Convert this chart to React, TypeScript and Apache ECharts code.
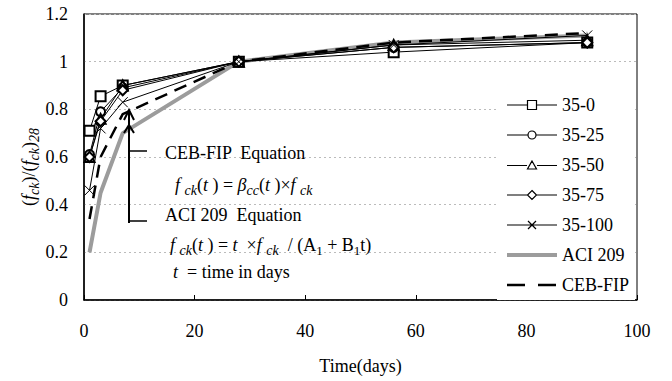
import React, { useEffect, useRef } from "react";
import * as echarts from "echarts";

const days = [1, 3, 7, 28, 56, 91];
const s35_0 = [0.71, 0.855, 0.9, 1.0, 1.04, 1.08];
const s35_25 = [0.61, 0.79, 0.89, 1.0, 1.06, 1.08];
const s35_50 = [0.6, 0.76, 0.9, 1.0, 1.07, 1.09];
const s35_75 = [0.6, 0.75, 0.88, 1.0, 1.06, 1.08];
const s35_100 = [0.46, 0.72, 0.83, 1.0, 1.07, 1.11];
const aci209 = [0.2, 0.45, 0.7, 1.0, 1.08, 1.11];
const cebfip = [0.34, 0.6, 0.78, 1.0, 1.08, 1.12];
const legendNames = ["35-0", "35-25", "35-50", "35-75", "35-100", "ACI 209", "CEB-FIP"];

const FONT = "Liberation Serif";

const rich = {
  n: { fontFamily: FONT, fontSize: 18, color: "#000", lineHeight: 24, verticalAlign: "middle" },
  i: { fontFamily: FONT, fontSize: 18, fontStyle: "italic", color: "#000", lineHeight: 24, verticalAlign: "middle" },
  s: { fontFamily: FONT, fontSize: 14, fontStyle: "italic", color: "#000", lineHeight: 15, verticalAlign: "bottom" },
  sn: { fontFamily: FONT, fontSize: 13, color: "#000", lineHeight: 15, verticalAlign: "bottom" },
};

// legend icons: line with marker (50 x 10 box)
const legendIcons: Record<string, string> = {
  "35-0": "path://M0,5H20M30,5H50M20.5,0.5H29.5V9.5H20.5Z",
  "35-25": "path://M0,5H21M29,5H50M21,5A4,4 0 1 0 29,5A4,4 0 1 0 21,5Z",
  "35-50": "path://M0,5H20M30,5H50M25,0.5L29.5,8.5H20.5Z",
  "35-75": "path://M0,5H20M30,5H50M25,0.5L29.5,5L25,9.5L20.5,5Z",
  "35-100": "path://M0,5H50M21,1L29,9M29,1L21,9",
};

const pair = (vals: number[]) => days.map((d, i) => [d, vals[i]]);

export default function App() {
  const ref = useRef<HTMLDivElement>(null);
  useEffect(() => {
    document.body.style.margin = "0";
    const chart = echarts.init(ref.current!, undefined, { renderer: "svg" });
    const markerSeries = (name: string, vals: number[], symbol: string, size: number) => ({
      name,
      type: "line",
      data: pair(vals),
      symbol,
      symbolSize: size,
      lineStyle: { color: "#000", width: 1 },
      itemStyle: { color: "#000", borderColor: "#000", borderWidth: 1 },
      z: 3,
    });
    const legendData = legendNames.map((n) => {
      if (legendIcons[n]) {
        return {
          name: n,
          icon: legendIcons[n],
          itemStyle: { color: "#fff", borderColor: "#000", borderWidth: 1.2 },
        };
      }
      if (n === "ACI 209") {
        return { name: n, itemStyle: { opacity: 0 }, lineStyle: { width: 4, color: "#9c9c9c" } };
      }
      return { name: n, itemStyle: { opacity: 0 }, lineStyle: { width: 2.5, color: "#000", type: [18, 13] } };
    });
    chart.setOption({
      animation: false,
      backgroundColor: "#fff",
      textStyle: { fontFamily: FONT },
      grid: { left: 84, right: 35, top: 14, bottom: 81, show: true, borderColor: "#000", borderWidth: 1 },
      xAxis: {
        type: "value",
        min: 0,
        max: 100,
        interval: 20,
        name: "Time(days)",
        nameLocation: "middle",
        nameGap: 57,
        nameTextStyle: { fontFamily: FONT, fontSize: 18, color: "#000" },
        axisLine: { onZero: false, lineStyle: { color: "#000", width: 1.5 } },
        axisTick: { inside: true, length: 5, lineStyle: { color: "#000" } },
        axisLabel: { margin: 22, fontFamily: FONT, fontSize: 18, color: "#000" },
        splitLine: { show: false },
      },
      yAxis: {
        type: "value",
        min: 0,
        max: 1.2,
        interval: 0.2,
        axisLine: { show: true, lineStyle: { color: "#000", width: 1.5 } },
        axisTick: { show: false },
        axisLabel: {
          margin: 16,
          fontFamily: FONT,
          fontSize: 18,
          color: "#000",
          formatter: (v: number) => String(parseFloat(v.toFixed(1))),
        },
        splitLine: { show: true, lineStyle: { color: "#bbb", type: [2, 3], width: 1 } },
      },
      legend: {
        orient: "vertical",
        left: 497,
        top: 90,
        backgroundColor: "#fff",
        padding: [6, 6, 6, 8],
        itemWidth: 50,
        itemHeight: 10,
        itemGap: 12,
        data: legendData,
        textStyle: { fontFamily: FONT, fontSize: 18, color: "#000", lineHeight: 17 },
      },
      series: [
        {
          name: "ACI 209",
          type: "line",
          data: pair(aci209),
          symbol: "none",
          lineStyle: { color: "#9c9c9c", width: 4 },
          itemStyle: { color: "#9c9c9c" },
          z: 2,
        },
        {
          name: "CEB-FIP",
          type: "line",
          data: pair(cebfip),
          symbol: "none",
          lineStyle: { color: "#000", width: 2.5, type: [13, 8] },
          itemStyle: { color: "#000" },
          z: 2,
        },
        markerSeries("35-0", s35_0, "emptyRect", 10),
        markerSeries("35-25", s35_25, "emptyCircle", 9),
        markerSeries("35-50", s35_50, "emptyTriangle", 10),
        markerSeries("35-75", s35_75, "emptyDiamond", 10),
        markerSeries("35-100", s35_100, "path://M0,0L10,10M10,0L0,10", 10),
      ],
      graphic: [
        {
          type: "text",
          x: 29,
          y: 167,
          rotation: Math.PI / 2,
          style: {
            text: "{n|(}{i|f}{s|ck}{n|)/(}{i|f}{s|ck}{n|)}{s|28}",
            rich,
            align: "center",
            verticalAlign: "middle",
          },
          z: 10,
        },
        { type: "line", shape: { x1: 129, y1: 223, x2: 129, y2: 111 }, style: { stroke: "#000", lineWidth: 2 }, z: 10 },
        { type: "polyline", shape: { points: [[124, 120], [129, 110], [134, 120]] }, style: { stroke: "#000", lineWidth: 2, fill: "none" }, z: 10 },
        { type: "polyline", shape: { points: [[124, 133], [129, 125], [134, 133]] }, style: { stroke: "#000", lineWidth: 2, fill: "none" }, z: 10 },
        { type: "line", shape: { x1: 129, y1: 151, x2: 147, y2: 151 }, style: { stroke: "#000", lineWidth: 1.5 }, z: 10 },
        { type: "line", shape: { x1: 129, y1: 221, x2: 147, y2: 221 }, style: { stroke: "#000", lineWidth: 1.5 }, z: 10 },
        {
          type: "text",
          x: 165,
          y: 153,
          style: { text: "{n|CEB-FIP  Equation}", rich, verticalAlign: "middle" },
          z: 10,
        },
        {
          type: "text",
          x: 175,
          y: 185,
          style: {
            text: "{i|f }{s|ck}{n|(}{i|t}{n| ) = }{i|β}{s|cc}{n|(}{i|t}{n| )×}{i|f }{s|ck}",
            rich,
            verticalAlign: "middle",
          },
          z: 10,
        },
        {
          type: "text",
          x: 165,
          y: 215,
          style: { text: "{n|ACI 209  Equation}", rich, verticalAlign: "middle" },
          z: 10,
        },
        {
          type: "text",
          x: 170,
          y: 245,
          style: {
            text: "{i|f }{s|ck}{n|(}{i|t}{n| ) = }{i|t}{n|  ×}{i|f }{s|ck}{n|  / (A}{sn|1}{n| + B}{sn|1}{n|t)}",
            rich,
            verticalAlign: "middle",
          },
          z: 10,
        },
        {
          type: "text",
          x: 173,
          y: 272,
          style: { text: "{i|t}{n|  = time in days}", rich, verticalAlign: "middle" },
          z: 10,
        },
      ],
    });
    return () => chart.dispose();
  }, []);
  return <div ref={ref} style={{ width: 672, height: 381 }} />;
}
